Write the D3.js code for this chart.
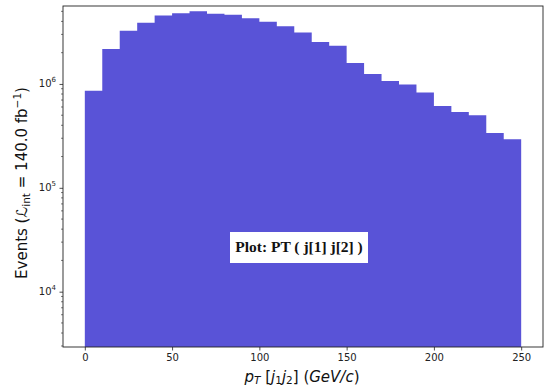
<!DOCTYPE html>
<html><head><meta charset="utf-8">
<script src="https://cdn.jsdelivr.net/npm/d3@7"></script>
<style>body{margin:0;background:#fff}svg{display:block}</style>
</head><body>
<svg id="c" width="547" height="388"></svg>
<script>
const binEdges = [0,10,20,30,40,50,60,70,80,90,100,110,120,130,140,150,160,170,180,190,200,210,220,230,240,250];
const counts = [8.59e5,2.17e6,3.25e6,3.88e6,4.55e6,4.79e6,5.01e6,4.73e6,4.63e6,4.29e6,3.97e6,3.60e6,3.13e6,2.53e6,2.33e6,1.59e6,1.25e6,1.07e6,9.89e5,8.29e5,6.13e5,5.38e5,5.00e5,3.38e5,2.94e5];
const xTicks = [0,50,100,150,200,250];
const yTicks = [1e4,1e5,1e6];
const annotation = "Plot: PT ( j[1] j[2] )";

const svg = d3.select("#c");
const L=63, R=543, T=6, B=347;
const x = d3.scaleLinear().domain([-12.5,262.5]).range([L,R]);
const y = d3.scaleLog().domain([2934,5.63e6]).range([B,T]);
const color = "#5953d7";

// histogram as one step path (no seams between bars)
const pts = [];
counts.forEach((c,i)=>{ pts.push([binEdges[i],c]); });
pts.push([binEdges[binEdges.length-1], counts[counts.length-1]]);
const area = d3.area().curve(d3.curveStepAfter)
  .x(d=>x(d[0])).y0(B).y1(d=>y(d[1]));
svg.append("path").datum(pts).attr("d",area).attr("fill",color);

// x axis
const xa = svg.append("g").attr("transform",`translate(0,${B})`)
  .call(d3.axisBottom(x).tickValues(xTicks).tickSize(3.5).tickPadding(3).tickFormat(d3.format("d")));
xa.select(".domain").remove();
xa.selectAll("text").attr("font-family","DejaVu Sans").attr("font-size",10).attr("fill","#222");
xa.selectAll("line").attr("stroke","#222").attr("stroke-width",0.8);

// y axis major
const ya = svg.append("g").attr("transform",`translate(${L},0)`)
  .call(d3.axisLeft(y).tickValues(yTicks).tickSize(3.5).tickPadding(3).tickFormat(""));
ya.select(".domain").remove();
ya.selectAll("line").attr("stroke","#222").attr("stroke-width",0.8);
const lab = svg.append("g");
yTicks.forEach(t=>{
  const tx = lab.append("text").attr("x",L-7).attr("y",y(t)+3.5)
    .attr("text-anchor","end").attr("font-family","DejaVu Sans").attr("font-size",10).attr("fill","#222");
  tx.append("tspan").text("10");
  tx.append("tspan").attr("dy",-5).attr("font-size",7).text(String(Math.round(Math.log10(t))));
});
// minor ticks
const minors = [];
for (let e=3;e<=6;e++) for (let m=2;m<=9;m++){const v=m*Math.pow(10,e); if(v>=y.domain()[0]&&v<=y.domain()[1]) minors.push(v);}
svg.append("g").selectAll("line").data(minors).join("line")
  .attr("x1",L-2).attr("x2",L).attr("y1",d=>y(d)).attr("y2",d=>y(d))
  .attr("stroke","#222").attr("stroke-width",0.6);

// frame
svg.append("rect").attr("x",L).attr("y",T).attr("width",R-L).attr("height",B-T)
  .attr("fill","none").attr("stroke","#222").attr("stroke-width",0.9);

// x label
const xl = svg.append("text").attr("x",302).attr("y",382).attr("text-anchor","middle")
  .attr("font-family","DejaVu Sans").attr("font-size",15).attr("fill","#111");
xl.append("tspan").attr("font-style","italic").text("p");
xl.append("tspan").attr("font-style","italic").attr("font-size",10.5).attr("dy",2).text("T");
xl.append("tspan").attr("dy",-2).text(" [");
xl.append("tspan").attr("font-style","italic").text("j");
xl.append("tspan").attr("font-size",10.5).attr("dy",2).text("1");
xl.append("tspan").attr("font-style","italic").attr("dy",-2).text("j");
xl.append("tspan").attr("font-size",10.5).attr("dy",2).text("2");
xl.append("tspan").attr("dy",-2).text("] (");
xl.append("tspan").attr("font-style","italic").text("GeV/c");
xl.append("tspan").text(")");

// y label
const yl = svg.append("text").attr("transform","translate(27,183) rotate(-90)").attr("text-anchor","middle")
  .attr("font-family","DejaVu Sans").attr("font-size",15).attr("fill","#111");
yl.append("tspan").text("Events (");
yl.append("tspan").text("ℒ");
yl.append("tspan").attr("font-size",10.5).attr("dy",3).text("int");
yl.append("tspan").attr("dy",-3).text(" = 140.0 fb");
yl.append("tspan").attr("font-size",10.5).attr("dy",-6).text("−1");
yl.append("tspan").attr("dy",6).text(")");

// annotation box
svg.append("rect").attr("x",230).attr("y",232).attr("width",138).attr("height",31).attr("fill","#fff");
svg.append("text").attr("x",299).attr("y",252).attr("text-anchor","middle")
  .attr("font-family","Liberation Serif").attr("font-weight","bold").attr("font-size",15.5).attr("fill","#111")
  .text(annotation);
</script>
</body></html>
